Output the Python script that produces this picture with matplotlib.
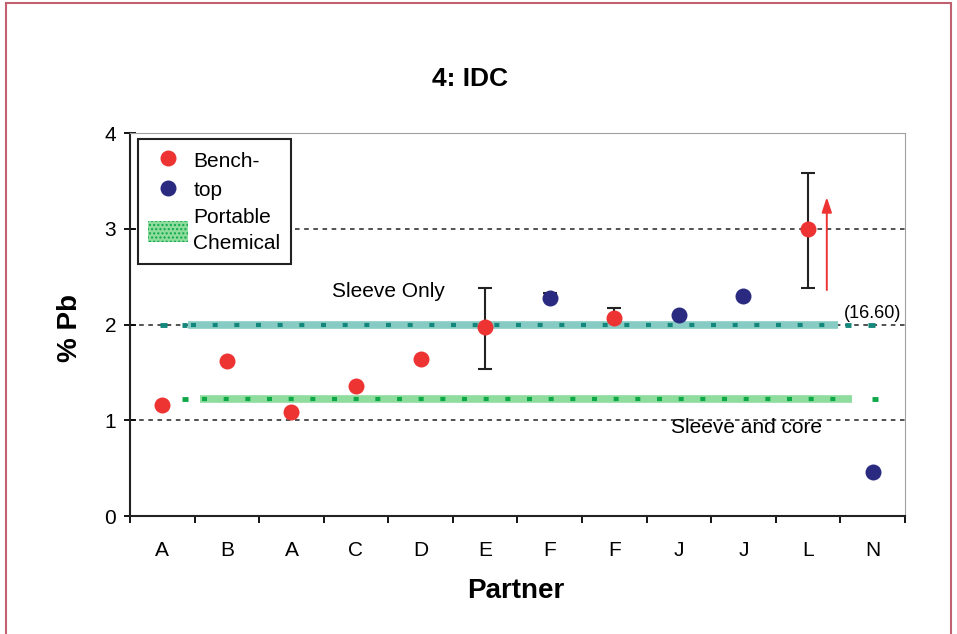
import matplotlib.pyplot as plt
from matplotlib.lines import Line2D
from matplotlib.patches import Patch, Rectangle

plt.rcParams['font.family'] = ['Liberation Sans', 'DejaVu Sans']

# partners along the x axis
partners = ['A', 'B', 'A', 'C', 'D', 'E', 'F', 'F', 'J', 'J', 'L', 'N']
# instrument type per point: 'r' = bench-top (red), 'b' = blue
kind = ['r', 'r', 'r', 'r', 'r', 'r', 'b', 'r', 'b', 'b', 'r', 'b']
pb = [1.16, 1.62, 1.09, 1.36, 1.64, 1.97, 2.28, 2.07, 2.10, 2.30, 3.00, 0.46]
err_lo = [None, None, None, None, None, 1.54, 2.28, 2.07, None, None, 2.38, None]
err_hi = [None, None, None, None, None, 2.38, 2.33, 2.17, None, None, 3.58, None]

sleeve_only = 2.0
sleeve_core = 1.0
portable = 1.22
ref_top = 3.0
arrow_from, arrow_to = 2.36, 3.33

red = '#ee3333'
blue = '#2a2a80'
teal_lt, teal_dk = '#86ccc4', '#13877c'
green_lt, green_dk = '#8edc9e', '#0ea848'

fig = plt.figure(figsize=(9.57, 6.34), dpi=100)
ax = fig.add_axes([0.1358, 0.1861, 0.8098, 0.6041])

x = list(range(len(partners)))

# reference dashed lines
for yv in [sleeve_core, sleeve_only, ref_top]:
    ax.axhline(yv, color='#222222', ls=(0, (3, 3)), lw=1.1, zorder=1)

# sleeve-only band (teal)
ax.plot([0.40, 10.46], [sleeve_only] * 2, color=teal_lt, lw=5.5, solid_capstyle='butt', zorder=2)
ax.plot([0.45, 10.46], [sleeve_only] * 2, color=teal_dk, lw=3, ls=(0, (1.2, 4)), zorder=3)
for a, b in [(-0.035, 0.07), (0.30, 0.38), (10.57, 10.66), (10.93, 11.04)]:
    ax.plot([a, b], [sleeve_only] * 2, color=teal_dk, lw=3.5, solid_capstyle='butt', zorder=3)

# portable chemical band (green)
ax.plot([0.58, 10.68], [portable] * 2, color=green_lt, lw=5.5, solid_capstyle='butt', zorder=2)
ax.plot([0.62, 10.68], [portable] * 2, color=green_dk, lw=3, ls=(0, (1.2, 4)), zorder=3)
for a, b in [(0.30, 0.40), (10.99, 11.08)]:
    ax.plot([a, b], [portable] * 2, color=green_dk, lw=3.5, solid_capstyle='butt', zorder=3)

# error bars
for xi, lo, hi, v in zip(x, err_lo, err_hi, pb):
    if lo is None:
        continue
    ax.errorbar(xi, v, yerr=[[v - lo], [hi - v]], fmt='none', ecolor='#222222',
                elinewidth=1.5, capsize=5, capthick=1.5, zorder=4)

for xi, v, k in zip(x, pb, kind):
    ax.plot(xi, v, 'o', color=red if k == 'r' else blue, ms=11.5, mec='none', zorder=5)

# arrow for the off-scale value
ax.annotate('', xy=(10.29, arrow_to), xytext=(10.29, arrow_from),
            arrowprops=dict(arrowstyle='-|>,head_width=0.3,head_length=0.9',
                            color=red, lw=1.4, shrinkA=0, shrinkB=0), zorder=6)

ax.text(3.5, 2.34, 'Sleeve Only', fontsize=15, ha='center', va='center')
ax.text(9.04, 0.92, 'Sleeve and core', fontsize=15, ha='center', va='center')
ax.text(11.0, 2.12, '(16.60)', fontsize=13, ha='center', va='center')

ax.set_xlim(-0.5, 11.5)
ax.set_ylim(0, 4)
ax.set_yticks([0, 1, 2, 3, 4])
ax.set_xticks([i + 0.5 for i in range(-1, 12)], minor=False)
ax.set_xticklabels([])
ax.set_xticks(x, minor=True)
ax.set_xticklabels(partners, minor=True)
ax.tick_params(axis='x', which='major', length=5, direction='out', width=1.3)
ax.tick_params(axis='x', which='minor', length=0, pad=18, labelsize=15)
ax.tick_params(axis='y', length=8, direction='inout', labelsize=15, width=1.3, pad=6)

for side in ['top', 'right']:
    ax.spines[side].set_color('#a0a0a0')
for side in ['left', 'bottom']:
    ax.spines[side].set_color('#222222')
    ax.spines[side].set_linewidth(1.5)

fig.text(0.491, 0.875, '4: IDC', fontsize=19, fontweight='bold', ha='center', va='center')
fig.text(0.073, 0.483, '% Pb', fontsize=20, fontweight='bold', rotation=90,
         ha='center', va='center')
fig.text(0.539, 0.068, 'Partner', fontsize=20, fontweight='bold', ha='center', va='center')

handles = [
    Line2D([], [], marker='o', color=red, ls='none', ms=11.5, mec='none'),
    Line2D([], [], marker='o', color=blue, ls='none', ms=11.5, mec='none'),
    Patch(facecolor=green_lt, edgecolor=green_dk, hatch='....', lw=0),
]
leg = ax.legend(handles, ['Bench-', 'top', 'Portable\nChemical'], loc='upper left',
                fontsize=15, frameon=True, fancybox=False, edgecolor='#222222',
                framealpha=1, handlelength=1.9, handleheight=1.2, handletextpad=0.25,
                labelspacing=0.36, borderpad=0.5, borderaxespad=0,
                bbox_to_anchor=(0.0103, 0.984))
leg.get_frame().set_linewidth(1.5)
leg.set_zorder(10)
for t in leg.get_texts():
    t.set_linespacing(1.5)

# outer border of the figure
fig.patches.append(Rectangle((0.006, -0.05), 0.988, 1.045, transform=fig.transFigure,
                             fill=False, edgecolor='#c06070', lw=1.5))

fig.savefig('out.png', dpi=100)
